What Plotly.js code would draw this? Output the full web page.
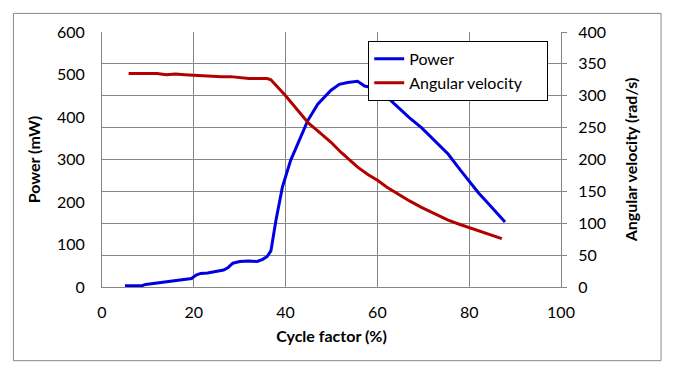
<!DOCTYPE html>
<html>
<head>
<meta charset="utf-8">
<script src="https://cdn.plot.ly/plotly-3.0.1.min.js"></script>
<style>
  body { margin: 0; background: #fff; }
  #graph { width: 678px; height: 376px; }
</style>
</head>
<body>
<div id="graph"></div>
<script>
// power curve (cycle factor %, mW)
const powerX = [5.0, 7.0, 8.7, 9.5, 11.0, 12.5, 14.0, 15.5, 17.0, 18.5, 19.5, 20.5, 21.5, 23.0, 25.0, 26.5, 27.5, 28.5, 30.0, 32.0, 33.8, 35.0, 36.0, 36.8, 37.9, 39.3, 41.1, 42.6, 44.8, 47.0, 49.9, 51.7, 53.5, 55.7, 56.5, 57.2, 58.5, 60.1, 62.0, 64.5, 67.0, 69.6, 72.0, 75.4, 78.0, 80.5, 82.0, 84.2, 86.0, 87.8];
const powerY = [3, 3, 3, 6, 8, 10, 13, 15, 17, 19, 20, 28, 32, 33, 36, 40, 46, 56, 60, 61, 60, 65, 72, 85, 157, 235, 298, 336, 391, 430, 463, 477, 481, 484, 478, 473, 470, 465, 448, 422, 398, 375, 350, 313, 276, 243, 222, 196, 175, 153];

// angular velocity (cycle factor %, rad/s)
const velX = [5.8, 8, 10, 12, 14, 16, 18, 20, 22, 24, 26, 28, 30, 32, 34, 36, 36.8, 38.5, 40, 41.5, 43.3, 45, 47, 49.9, 52.1, 55.7, 58, 60.1, 62, 64.5, 67, 69.6, 72, 75.4, 78, 80.5, 84, 87.1];
const velY = [335, 335, 334, 335, 333, 334, 333, 332, 331, 331, 330, 330, 328, 327, 327, 327, 325, 312, 300, 287, 271, 257, 245, 227, 211, 188, 176, 167, 157, 146, 135, 125, 117, 105, 98, 92, 83, 76];

const xTicks = [0, 20, 40, 60, 80, 100];
const powerTicks = [0, 100, 200, 300, 400, 500, 600];
const velTicks = [0, 50, 100, 150, 200, 250, 300, 350, 400];

const gridCol = '#878787';
const font = 'Lato, "Open Sans", sans-serif';
const pad = '\u00a0\u00a0\u00a0\u00a0\u00a0';   // widens the legend box a bit

let trace1 = {
    x: powerX,
    y: powerY,
    name: 'Power',
    type: 'scatter',
    mode: 'lines',
    line: { color: 'rgb(0, 0, 225)', width: 3 }
};
let trace2 = {
    x: velX,
    y: velY,
    name: 'Angular velocity' + pad,
    type: 'scatter',
    mode: 'lines',
    yaxis: 'y2',
    line: { color: 'rgb(178, 0, 0)', width: 3 }
};

let layout = {
    width: 678,
    height: 376,
    margin: { l: 102, r: 117, t: 32, b: 89 },
    paper_bgcolor: '#fff',
    plot_bgcolor: '#fff',
    font: { family: font, size: 16, color: '#000' },
    showlegend: true,
    legend: {
        x: 0.58, y: 0.965, xanchor: 'left', yanchor: 'top',
        bgcolor: '#fff', bordercolor: '#000', borderwidth: 1,
        font: { family: font, size: 16, color: '#000' }
    },
    xaxis: {
        range: [0, 100],
        tickvals: xTicks,
        showgrid: true, gridcolor: gridCol, gridwidth: 1,
        zeroline: false,
        showline: true, linecolor: gridCol, linewidth: 1,
        ticks: 'outside', ticklen: 11, tickcolor: 'rgba(0,0,0,0)',
        title: { text: 'Cycle factor (%)', standoff: 10, font: { family: font, size: 16, weight: 'bold' } }
    },
    yaxis: {
        range: [0, 600],
        tickvals: powerTicks,
        showgrid: false,
        zeroline: false,
        showline: true, linecolor: gridCol, linewidth: 1,
        ticks: 'outside', ticklen: 13, tickcolor: 'rgba(0,0,0,0)',
        title: { text: 'Power (mW)', standoff: 12, font: { family: font, size: 16, weight: 'bold' } }
    },
    yaxis2: {
        range: [0, 400],
        tickvals: velTicks,
        overlaying: 'y',
        side: 'right',
        showgrid: true, gridcolor: gridCol, gridwidth: 1,
        zeroline: false,
        showline: true, linecolor: gridCol, linewidth: 1,
        ticks: 'outside', ticklen: 5, tickcolor: gridCol,
        ticklabelstandoff: 8,
        title: { text: 'Angular velocity (rad/s)', standoff: 20, font: { family: font, size: 16, weight: 'bold' } }
    },
    // outer chart border
    shapes: [{
        type: 'rect', xref: 'paper', yref: 'paper',
        x0: -0.193, x1: 1.218, y0: -0.289, y1: 1.073,
        line: { color: gridCol, width: 1 }
    }]
};

Plotly.newPlot('graph', [trace1, trace2], layout, { displayModeBar: false });
</script>
</body>
</html>
